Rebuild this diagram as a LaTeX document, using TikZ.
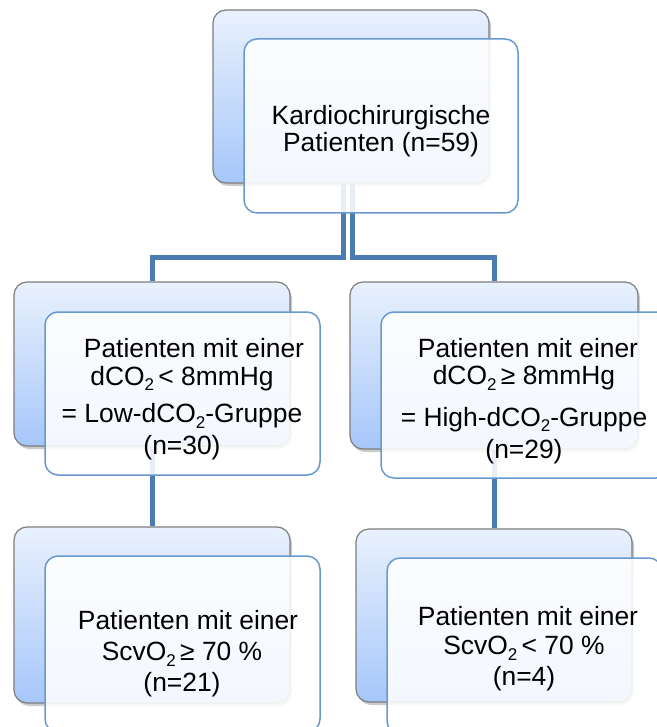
\documentclass[tikz,border=0pt]{standalone}
\usepackage{fontspec}
\setmainfont{Liberation Sans}
\usetikzlibrary{positioning,shadows}
\definecolor{boxtop}{RGB}{233,241,253}
\definecolor{boxbot}{RGB}{166,199,250}
\definecolor{boxline}{RGB}{125,125,125}
\definecolor{frontline}{RGB}{104,153,206}
\definecolor{connline}{RGB}{76,122,178}
\newcommand{\lowsub}[1]{\raisebox{-0.22em}{\fontsize{17}{17}\selectfont#1}}
\tikzset{
  backbox/.style={draw=boxline,line width=1.2pt,rounded corners=13pt,top color=boxtop,bottom color=boxbot,
    drop shadow={shadow xshift=2pt,shadow yshift=-3pt,opacity=0.35,fill=black!60},inner sep=0pt},
  frontbox/.style={draw=frontline,line width=1.5pt,rounded corners=13pt,fill=white,fill opacity=0.88,inner sep=0pt},
  conn/.style={draw=connline,line width=5pt},
  boxtext/.style={align=center,font=\fontsize{26.4}{27.5}\selectfont,inner sep=0pt}
}
\begin{document}
\begin{tikzpicture}[x=1pt,y=-1pt]
\useasboundingbox (0,0) rectangle (656,727);

\node[backbox,minimum width=276pt,minimum height=173pt] (topb) at (351,96.5) {};
\node[backbox,minimum width=276pt,minimum height=164pt] (lowb) at (152,364) {};
\node[backbox,minimum width=288pt,minimum height=167pt] (highb) at (494,365.5) {};
\node[backbox,minimum width=276pt,minimum height=176pt] (lowsb) at (152,615) {};
\node[backbox,minimum width=276pt,minimum height=173pt] (highsb) at (494,615.5) {};

\draw[conn] ([xshift=-8pt]topb.south) -- ++(0,74) -| (lowb.north);
\draw[conn] ([xshift=1pt]topb.south) -- ++(0,74) -| (highb.north);
\draw[conn] (lowb.south) -- (lowsb.north);
\draw[conn] (highb.south) -- (highsb.north);

\node[frontbox,minimum width=274pt,minimum height=174pt] (topf) at ([shift={(30,29.5)}]topb.center) {};
\node[frontbox,minimum width=275pt,minimum height=163pt] (lowf) at ([shift={(30.5,29.5)}]lowb.center) {};
\node[frontbox,minimum width=288pt,minimum height=166pt] (highf) at ([shift={(31,29.5)}]highb.center) {};
\node[frontbox,minimum width=275pt,minimum height=176pt] (lowsf) at ([shift={(30.5,29)}]lowsb.center) {};
\node[frontbox,minimum width=275pt,minimum height=176pt] (highsf) at ([shift={(30.5,30.5)}]highsb.center) {};

\node[boxtext] (toptext) at (381,131) {Kardiochirurgische\\Patienten (n=59)};
\node[boxtext] (lowtext) at (182,399) {\hspace*{24pt}Patienten mit einer\\dCO\lowsub{2}\,< 8mmHg\\[10pt]= Low-dCO\lowsub{2}-Gruppe\\[4pt](n=30)};
\node[boxtext] (hightext) at (524,401) {\hspace*{8pt}Patienten mit einer\\dCO\lowsub{2}\,≥ 8mmHg\\[14pt]= High-dCO\lowsub{2}-Gruppe\\[5pt](n=29)};
\node[boxtext] (lowstext) at (182,654) {\hspace*{12pt}Patienten mit einer\\[3pt]ScvO\lowsub{2}\,≥ 70 \%\\[4pt](n=21)};
\node[boxtext] (highstext) at (524,649) {\hspace*{8pt}Patienten mit einer\\[1pt]ScvO\lowsub{2}\,< 70 \%\\[4pt](n=4)};
\end{tikzpicture}
\end{document}
